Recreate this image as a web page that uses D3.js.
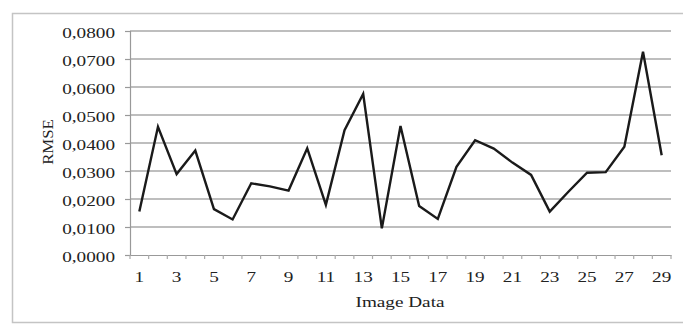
<!DOCTYPE html>
<html>
<head>
<meta charset="utf-8">
<script src="https://cdn.jsdelivr.net/npm/d3@7"></script>
<style>
  body{ margin:0; background:#fff; }
  svg text{ font-family:"Liberation Serif","Times New Roman",serif; fill:#222; }
</style>
</head>
<body>
<div id="chart"></div>
<script>
// Image number on the x axis, RMSE on the y axis.
var images = d3.range( 1, 30 );
var rmse = [
  0.0155, 0.0458, 0.0289, 0.0373, 0.0164, 0.0127, 0.0256, 0.0245, 0.0230, 0.0381,
  0.0179, 0.0446, 0.0575, 0.0095, 0.0461, 0.0175, 0.0129, 0.0315, 0.0410, 0.0380,
  0.0330, 0.0286, 0.0155, 0.0226, 0.0294, 0.0296, 0.0387, 0.0726, 0.0356
];
var y_ticks = [0, 0.01, 0.02, 0.03, 0.04, 0.05, 0.06, 0.07, 0.08];
var x_labels = [1, 3, 5, 7, 9, 11, 13, 15, 17, 19, 21, 23, 25, 27, 29];

var width = 683, height = 327;
var margin = { top: 31, right: 12, bottom: 72, left: 130 };
var plot_width = 671 - margin.left;
var plot_height = 255 - margin.top;
// the source picture is squeezed, text looks stretched sideways
var stretch = 1.28;

var svg = d3.select( '#chart' ).append( 'svg' )
  .attr( 'width', width )
  .attr( 'height', height );

// frame round the chart
svg.append( 'path' )
  .attr( 'd', 'M690,13.5 H12.5 V322.5 H690' )
  .attr( 'fill', 'none' )
  .attr( 'stroke', '#c4c4c4' )
  .attr( 'stroke-width', 1.5 );

var g = svg.append( 'g' )
  .attr( 'transform', 'translate(' + margin.left + ',' + margin.top + ')' );

var x_scale = d3.scaleBand()
  .domain( images )
  .range( [0, plot_width] );

var y_scale = d3.scaleLinear()
  .domain( [0, 0.08] )
  .range( [plot_height, 0] );

// gridlines
g.append( 'g' )
  .selectAll( 'line' )
  .data( y_ticks.slice( 1 ) )
  .enter().append( 'line' )
    .attr( 'x1', 0 )
    .attr( 'x2', plot_width )
    .attr( 'y1', function( d ){ return y_scale( d ) } )
    .attr( 'y2', function( d ){ return y_scale( d ) } )
    .attr( 'stroke', '#a8a8a8' )
    .attr( 'stroke-width', 1.3 );

// y axis
var y_axis = g.append( 'g' )
  .call( d3.axisLeft( y_scale )
    .tickValues( y_ticks )
    .tickSize( 5 )
    .tickPadding( 0 )
    .tickFormat( function( d ){ return d3.format( '.4f' )( d ).replace( '.', ',' ) } ) );
y_axis.select( '.domain' ).attr( 'stroke', '#999' ).attr( 'stroke-width', 1.2 );
y_axis.selectAll( '.tick line' ).attr( 'stroke', '#999' ).attr( 'stroke-width', 1.2 );
y_axis.selectAll( 'text' )
  .attr( 'font-size', 15 )
  .attr( 'x', -15 / stretch )
  .attr( 'y', 1.5 )
  .attr( 'transform', 'scale(' + stretch + ',1)' );

// x axis: ticks sit between the categories
var x_axis = g.append( 'g' )
  .attr( 'transform', 'translate(0,' + plot_height + ')' )
  .call( d3.axisBottom( x_scale )
    .tickSize( 0 )
    .tickPadding( 16 )
    .tickFormat( function( d ){ return x_labels.indexOf( d ) >= 0 ? d : '' } ) );
x_axis.select( '.domain' ).attr( 'stroke', '#999' ).attr( 'stroke-width', 1.2 );
x_axis.selectAll( 'text' )
  .attr( 'font-size', 15 )
  .attr( 'transform', 'scale(' + stretch + ',1)' );

// small marks at the category borders
x_axis.append( 'g' )
  .selectAll( 'line' )
  .data( images.concat( [30] ) )
  .enter().append( 'line' )
    .attr( 'x1', function( d ){ return ( d - 1 ) * x_scale.step() } )
    .attr( 'x2', function( d ){ return ( d - 1 ) * x_scale.step() } )
    .attr( 'y1', 0 )
    .attr( 'y2', 4 )
    .attr( 'stroke', '#aaa' )
    .attr( 'stroke-width', 1.2 );

// the data line
var line = d3.line()
  .x( function( d, i ){ return x_scale( images[i] ) + x_scale.bandwidth() / 2 } )
  .y( function( d ){ return y_scale( d ) } );

g.append( 'path' )
  .datum( rmse )
  .attr( 'd', line )
  .attr( 'fill', 'none' )
  .attr( 'stroke', '#1a1a1a' )
  .attr( 'stroke-width', 2.4 )
  .attr( 'stroke-linejoin', 'miter' );

// axis titles
svg.append( 'text' )
  .attr( 'transform', 'translate(400,307) scale(' + stretch + ',1)' )
  .attr( 'text-anchor', 'middle' )
  .attr( 'font-size', 15 )
  .text( 'Image Data' );

svg.append( 'text' )
  .attr( 'transform', 'translate(53,142) rotate(-90) scale(1.2,1)' )
  .attr( 'text-anchor', 'middle' )
  .attr( 'font-size', 14 )
  .text( 'RMSE' );
</script>
</body>
</html>
